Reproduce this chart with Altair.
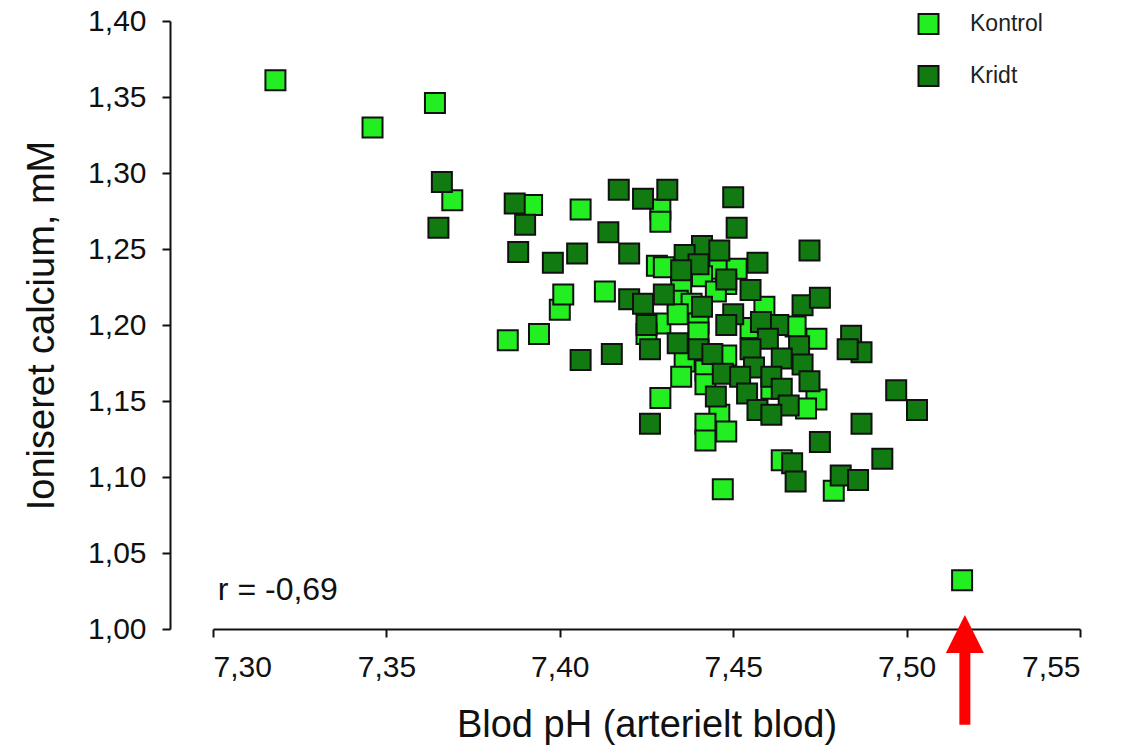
import altair as alt
import pandas as pd

# ---- data ----
kontrol_ph = [7.318, 7.346, 7.364, 7.369, 7.392, 7.406, 7.385, 7.394, 7.400, 7.401,
              7.413, 7.429, 7.429, 7.428, 7.430, 7.446, 7.451, 7.441, 7.448, 7.435,
              7.445, 7.434, 7.438, 7.459, 7.429, 7.434, 7.440, 7.425, 7.440, 7.455,
              7.468, 7.474, 7.448, 7.436, 7.435, 7.442, 7.442, 7.429, 7.461, 7.474,
              7.471, 7.446, 7.442, 7.442, 7.448, 7.447, 7.464, 7.479, 7.516]
kontrol_ca = [1.361, 1.330, 1.346, 1.282, 1.279, 1.276, 1.190, 1.194, 1.210, 1.220,
              1.222, 1.276, 1.268, 1.239, 1.238, 1.237, 1.237, 1.232, 1.227, 1.225,
              1.222, 1.216, 1.214, 1.212, 1.201, 1.207, 1.201, 1.194, 1.195, 1.198,
              1.199, 1.191, 1.180, 1.176, 1.166, 1.170, 1.161, 1.152, 1.158, 1.151,
              1.145, 1.141, 1.135, 1.124, 1.130, 1.092, 1.111, 1.091, 1.032]

kridt_ph = [7.366, 7.365, 7.387, 7.390, 7.388, 7.398, 7.405, 7.417, 7.424, 7.431,
            7.414, 7.420, 7.420, 7.406, 7.415, 7.426, 7.450, 7.451, 7.472, 7.441,
            7.446, 7.436, 7.440, 7.435, 7.457, 7.430, 7.424, 7.441, 7.455, 7.448,
            7.450, 7.470, 7.475, 7.425, 7.448, 7.463, 7.458, 7.426, 7.434, 7.440,
            7.444, 7.460, 7.469, 7.455, 7.464, 7.456, 7.470, 7.447, 7.452, 7.461,
            7.464, 7.472, 7.454, 7.445, 7.466, 7.457, 7.461, 7.484, 7.487, 7.483,
            7.497, 7.503, 7.487, 7.475, 7.493, 7.467, 7.468, 7.481, 7.486]
kridt_ca = [1.294, 1.264, 1.280, 1.266, 1.248, 1.241, 1.247, 1.289, 1.283, 1.289,
            1.261, 1.247, 1.217, 1.177, 1.181, 1.135, 1.284, 1.264, 1.249, 1.252,
            1.249, 1.246, 1.240, 1.236, 1.241, 1.220, 1.214, 1.212, 1.223, 1.230,
            1.207, 1.213, 1.218, 1.200, 1.200, 1.200, 1.202, 1.184, 1.188, 1.184,
            1.181, 1.191, 1.186, 1.184, 1.178, 1.172, 1.174, 1.168, 1.166, 1.166,
            1.158, 1.163, 1.155, 1.153, 1.147, 1.144, 1.141, 1.193, 1.182, 1.184,
            1.157, 1.144, 1.135, 1.123, 1.112, 1.109, 1.097, 1.101, 1.098]

groups = ["Kontrol", "Kridt"]
group_colors = ["#22ee22", "#117a11"]

x_ticks = [7.30, 7.35, 7.40, 7.45, 7.50, 7.55]
y_ticks = [1.00, 1.05, 1.10, 1.15, 1.20, 1.25, 1.30, 1.35, 1.40]

r_text = "r = -0,69"
r_pos = [7.3014, 1.0257]

arrow_ph = 7.5168
arrow_head_ca = 0.9967
arrow_shaft_ca = [0.986, 0.937]

FONT = "Liberation Sans"

df = pd.DataFrame({
    "pH": kontrol_ph + kridt_ph,
    "Ca": kontrol_ca + kridt_ca,
    "Gruppe": ["Kontrol"] * len(kontrol_ph) + ["Kridt"] * len(kridt_ph),
})

fmt = "replace(format(datum.value, '.2f'), '.', ',')"

xscale = alt.Scale(domain=[7.30, 7.55], nice=False, zero=False)
yscale = alt.Scale(domain=[1.00, 1.40], nice=False, zero=False)

points = alt.Chart(df).mark_square(
    size=400, opacity=1, stroke="#111111", strokeWidth=2
).encode(
    x=alt.X("pH:Q", scale=xscale, title="Blod pH (arterielt blod)",
            axis=alt.Axis(values=x_ticks, labelExpr=fmt, grid=False,
                          tickSize=8, labelPadding=15, titlePadding=24,
                          labelFontSize=30, titleFontSize=38)),
    y=alt.Y("Ca:Q", scale=yscale, title="Ioniseret calcium, mM",
            axis=alt.Axis(values=y_ticks, labelExpr=fmt, grid=False, offset=43,
                          tickSize=8, labelPadding=16, titlePadding=26,
                          labelFontSize=30, titleFontSize=38)),
    color=alt.Color("Gruppe:N", scale=alt.Scale(domain=groups, range=group_colors),
                    legend=alt.Legend(title=None, orient="none", legendX=704, legendY=-8.5,
                                      symbolType="square", symbolSize=400,
                                      symbolStrokeColor="#111111", symbolStrokeWidth=2,
                                      symbolOpacity=1, labelFontSize=23, labelFont=FONT,
                                      labelColor="#222222", labelOffset=30, rowPadding=23,
                                      padding=0, offset=0)),
)

text_df = pd.DataFrame({"pH": [r_pos[0]], "Ca": [r_pos[1]], "label": [r_text]})
rtext = alt.Chart(text_df).mark_text(
    align="left", baseline="middle", fontSize=32, font=FONT, color="#111111"
).encode(x="pH:Q", y="Ca:Q", text="label:N")

shaft_df = pd.DataFrame({"pH": [arrow_ph], "Ca": [arrow_shaft_ca[0]], "Ca2": [arrow_shaft_ca[1]]})
shaft = alt.Chart(shaft_df).mark_rule(color="#ff0000", strokeWidth=11).encode(
    x="pH:Q", y="Ca:Q", y2="Ca2:Q")

head_df = pd.DataFrame({"pH": [arrow_ph], "Ca": [arrow_head_ca]})
head = alt.Chart(head_df).mark_point(
    shape="M0,-1L1,1L-1,1Z", size=1444, filled=True, opacity=1, color="#ff0000", strokeWidth=0
).encode(x="pH:Q", y="Ca:Q")

chart = alt.layer(points, rtext, shaft, head).properties(
    width=867, height=608,
    autosize=alt.AutoSizeParams(type="none"),
    padding={"left": 205, "top": 13, "right": 56, "bottom": 116},
).configure(font=FONT).configure_view(stroke=None).configure_axis(
    domainColor="#111111", domainWidth=2, tickColor="#111111", tickWidth=2,
    labelColor="#111111", titleColor="#111111", labelFont=FONT, titleFont=FONT,
    titleFontWeight="normal",
)

chart.save("out.html", embed_options={"renderer": "svg", "actions": False})
